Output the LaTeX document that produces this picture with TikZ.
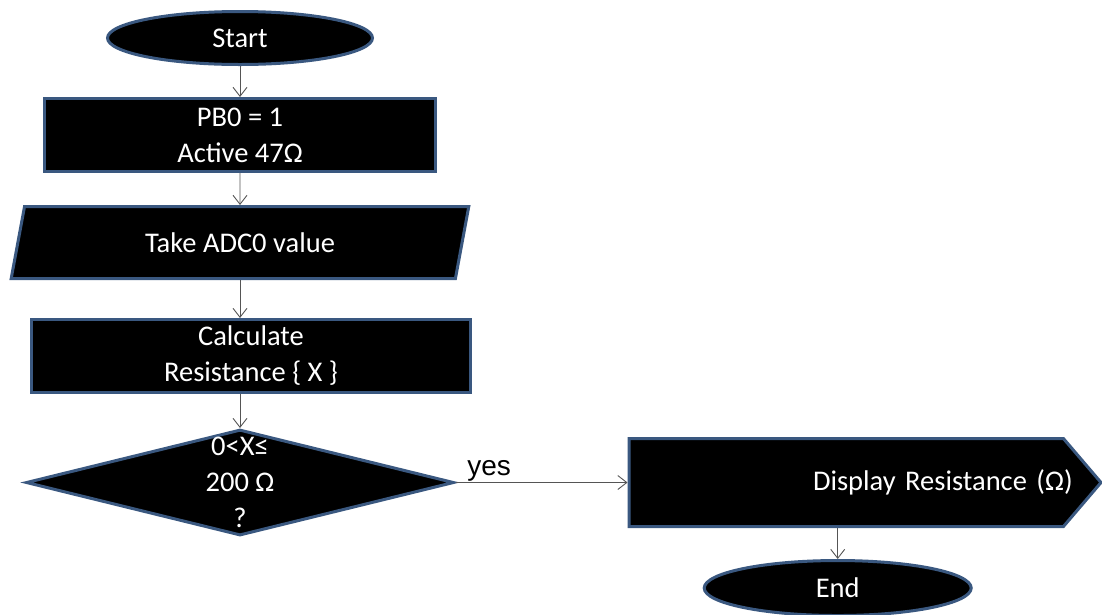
\documentclass[tikz,border=0pt]{standalone}
\usepackage{fontspec}
\usepackage{tikz}
\usetikzlibrary{shapes.geometric,shapes.symbols,arrows.meta,positioning}
\newfontfamily\flowfamily{Carlito}
\newfontfamily\yesfamily{Liberation Sans}
\newcommand\flowfont{\flowfamily\fontsize{28.5}{36}\selectfont}
\definecolor{edgeblue}{RGB}{58,88,128}
\definecolor{arrowgray}{RGB}{85,85,85}
\tikzset{
  termbox/.style={ellipse,draw=edgeblue,line width=3pt,fill=black,text=white,
    minimum width=265pt,minimum height=53pt,font=\flowfont,inner sep=0pt},
  procbox/.style={rectangle,draw=edgeblue,line width=3pt,fill=black,text=white,
    minimum height=73pt,align=center,font=\flowfont,inner sep=4pt},
  iobox/.style={trapezium,trapezium left angle=73.6,trapezium right angle=106.4,
    trapezium stretches=true,draw=edgeblue,line width=3pt,fill=black,text=white,
    minimum width=459pt,minimum height=72pt,font=\flowfont,inner sep=0pt},
  decbox/.style={diamond,draw=edgeblue,line width=3pt,fill=black,
    minimum width=428pt,minimum height=106pt,inner sep=0pt},
  dectext/.style={text=white,align=center,font=\flowfont,inner sep=0pt},
  outbox/.style={signal,signal to=east,signal pointer angle=99,draw=edgeblue,
    line width=3pt,fill=black,text=white,minimum width=472pt,minimum height=88pt,
    text width=415pt,align=right,font=\flowfont,inner sep=4pt},
  arrow/.style={-{Straight Barb[length=9pt,width=14pt]},draw=arrowgray,line width=0.9pt},
}

\begin{document}
\begin{tikzpicture}[x=1pt,y=1pt]
  \useasboundingbox (0,0) rectangle (1102,-614);
  \node[termbox] (start) at (240,-38) {Start};
  \node[procbox, minimum width=391pt, below=31pt of start] (pb)   {PB0 = 1\\Active 47Ω};
  \node[iobox,   below=32pt of pb]    (adc)  {Take ADC0 value};
  \node[procbox, minimum width=439pt, below=38pt of adc, xshift=11pt] (calc) {Calculate\\Resistance \{ X \}};
  \node[decbox,  below=34pt of calc, xshift=-11pt,
        label={[dectext]center:{0<X≤\\200 Ω\\?}}] (check) {};
  \node[outbox,  right=172pt of check] (disp) {Display Resistance (Ω)\hspace*{-19pt}};
  \node[termbox, minimum width=267pt,minimum height=55pt,
        below=31pt of disp, xshift=-8.5pt] (end) {End};
  \draw[arrow] (start) -- (pb);
  \draw[arrow] (pb)    -- (adc);
  \draw[arrow] (adc.south) -- (adc.south |- calc.north);
  \draw[arrow] (check.north |- calc.south) -- (check.north);
  \draw[arrow] (check.east) -- node[pos=0,anchor=base west,xshift=8pt,yshift=7pt,
        font=\yesfamily\fontsize{28}{30}\selectfont]{yes} (disp.west);
  \draw[arrow] (end.north |- disp.south) -- (end.north);
\end{tikzpicture}
\end{document}
